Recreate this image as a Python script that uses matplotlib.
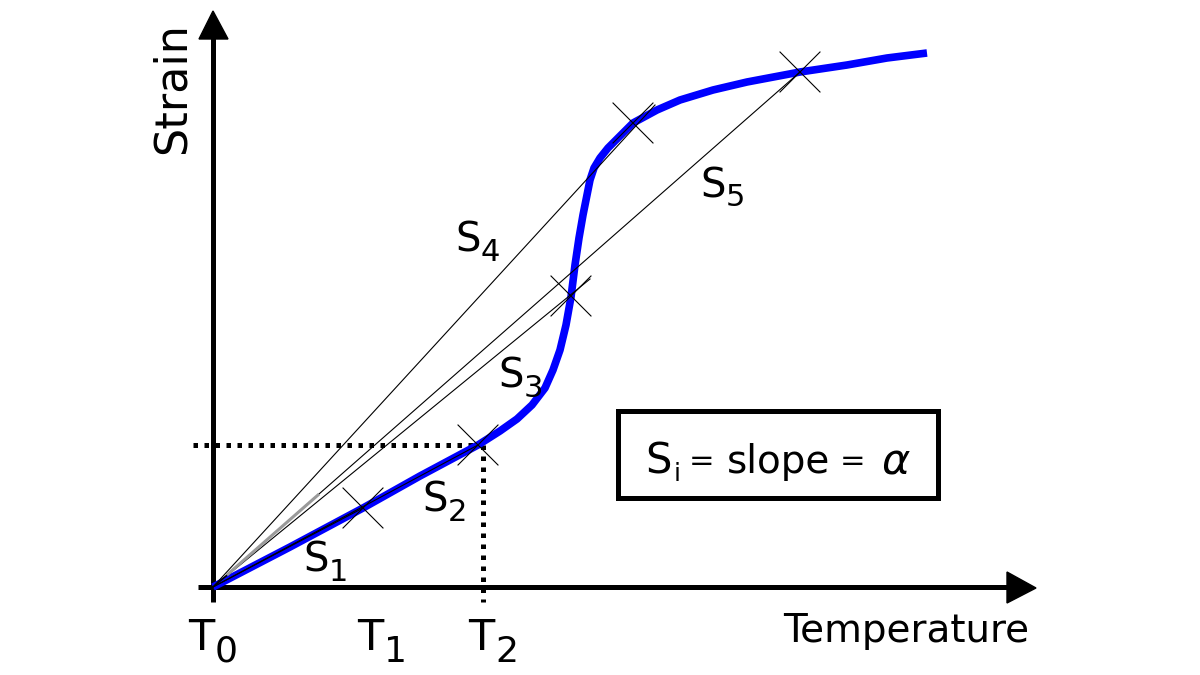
import matplotlib.pyplot as plt
from matplotlib.patches import Rectangle, Polygon

# everything is measured in picture pixels (x to the right, y downwards)
origin = (213, 587)

# the blue strain curve
curve_x = [213, 290, 363, 420, 478, 500, 517, 532, 545, 553, 560, 566, 571, 575, 579,
           583, 587, 590, 594, 600, 608, 617, 633, 657, 680, 713, 747, 800, 847, 887, 927]
curve_y = [587, 547, 508, 476, 445, 431, 419, 405, 388, 370, 350, 325, 297, 265, 238,
           215, 195, 180, 168, 158, 148, 139, 123, 110, 100, 90, 82, 72, 65, 58, 53]

# points picked on the curve (drawn as crosses)
cross_x = [363, 478, 571, 633, 800]
cross_y = [508, 445, 296, 123, 72]

# end of each secant line drawn from the origin
secant_x = [363, 478, 590, 655, 800]
secant_y = [508, 445, 279, 105, 72]

# slope labels S1..S5: (x of S, baseline of S, subscript)
slope_lab_x = [303, 422, 498, 455, 700]
slope_lab_y = [572, 512, 388, 252, 197]
slope_sub = ['1', '2', '3', '4', '5']

# temperature labels on the x axis
temp_lab_x = [188, 357, 468]
temp_sub = ['0', '1', '2']
T2 = (483, 445)

fig = plt.figure(figsize=(12, 6.75), dpi=100)
ax = fig.add_axes([0, 0, 1, 1])
ax.set_xlim(0, 1200)
ax.set_ylim(675, 0)
ax.axis('off')

ox, oy = origin

# axes with arrow heads
ax.plot([ox, ox], [602, 38], color='black', lw=3.6, solid_capstyle='butt')
ax.add_patch(Polygon([(199, 39), (228, 39), (213, 11)], closed=True, color='black'))
ax.plot([198, 1008], [oy, oy], color='black', lw=3.6, solid_capstyle='butt')
ax.add_patch(Polygon([(1007, 572), (1007, 603), (1036, 588)], closed=True, color='black'))

# dotted guide lines at T2
ax.plot([193, T2[0] - 5], [T2[1], T2[1]], color='black', lw=3.6, linestyle=(0, (0.9, 1.3)))
ax.plot([T2[0], T2[0]], [T2[1], 602], color='black', lw=3.6, linestyle=(0, (0.9, 1.3)))

# the curve
ax.plot(curve_x, curve_y, color='#0000ff', lw=5.5, solid_capstyle='butt', solid_joinstyle='round')

# secant lines
for sx, sy in zip(secant_x, secant_y):
    ax.plot([ox, sx], [oy, sy], color='black', lw=0.8)
# grey smudge near the origin on the S5 line
ax.plot([228, 318], [574, 495], color='#9a9a9a', lw=2.2)

# crosses
arm = 20
for cx, cy in zip(cross_x, cross_y):
    ax.plot([cx - arm, cx + arm], [cy - arm, cy + arm], color='black', lw=0.8)
    ax.plot([cx - arm, cx + arm], [cy + arm, cy - arm], color='black', lw=0.8)

# slope labels
for lx, ly, sub in zip(slope_lab_x, slope_lab_y, slope_sub):
    ax.text(lx, ly, 'S', fontsize=29, ha='left', va='baseline')
    ax.text(lx + 26, ly + 9, sub, fontsize=22, ha='left', va='baseline')

# temperature tick labels
for lx, sub in zip(temp_lab_x, temp_sub):
    ax.text(lx, 650, 'T', fontsize=31, ha='left', va='baseline')
    ax.text(lx + 27, 662, sub, fontsize=26, ha='left', va='baseline')

# axis titles
ax.text(906, 642, 'Temperature', fontsize=28, ha='center', va='baseline')
ax.text(185, 88, 'Strain', fontsize=32, ha='center', va='baseline',
        rotation=90, rotation_mode='anchor')

# the legend box
ax.add_patch(Rectangle((617.5, 410.5), 320, 87, fill=False, edgecolor='black', lw=3.6))
ax.text(645, 473, 'S', fontsize=30, ha='left', va='baseline')
ax.text(674, 481, 'i', fontsize=18, ha='left', va='baseline')
ax.text(702, 470, '=', fontsize=22, ha='center', va='baseline')
ax.text(727, 473, 'slope', fontsize=28, ha='left', va='baseline')
ax.text(853, 470, '=', fontsize=22, ha='center', va='baseline')
ax.text(881, 473, r'$\alpha$', fontsize=31, ha='left', va='baseline')

fig.savefig('out.png', dpi=100)
